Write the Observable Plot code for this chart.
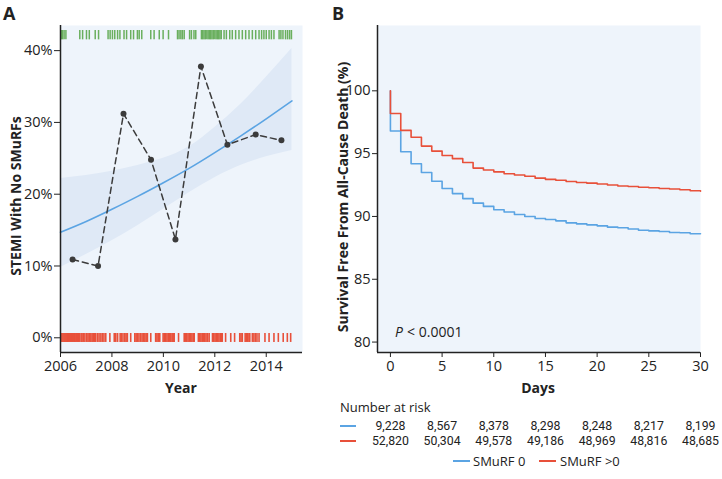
<!DOCTYPE html>
<html>
<head>
<meta charset="utf-8">
<script src="https://cdn.jsdelivr.net/npm/d3@7"></script>
<script src="https://cdn.jsdelivr.net/npm/@observablehq/plot@0.6"></script>
<style>
  html, body { margin: 0; padding: 0; background: #fff; }
  #root { position: relative; width: 722px; height: 479px; font-family: "Open Sans", sans-serif; color: #222; overflow: hidden; }
  .abs { position: absolute; }
  .panel { font-weight: 700; font-size: 18px; }
  .ttl { font-weight: 700; font-size: 14px; white-space: nowrap; }
  .rot { transform: translate(-50%, -50%) rotate(-90deg); }
  .sw { position: absolute; height: 2px; }
  .txt { font-size: 13px; white-space: nowrap; }
</style>
</head>
<body>
<div id="root">
  <div class="abs panel" style="left:3px;top:1px;">A</div>
  <div class="abs panel" style="left:332px;top:1px;">B</div>
  <div id="pa" class="abs" style="left:0;top:0;"></div>
  <div id="pb" class="abs" style="left:330px;top:0;"></div>
  <div class="abs ttl rot" style="left:15px;top:196px;">STEMI With No SMuRFs</div>
  <div class="abs ttl rot" style="left:342px;top:197px;">Survival Free From All-Cause Death (%)</div>
  <div class="abs ttl" style="left:181px;top:387px;transform:translate(-50%,-50%);">Year</div>
  <div class="abs ttl" style="left:538px;top:387px;transform:translate(-50%,-50%);">Days</div>
  <div class="abs txt" style="left:340px;top:398px;">Number at risk</div>
  <div class="sw" style="left:340px;top:425px;width:16px;background:#5ba4e3;"></div>
  <div class="sw" style="left:340px;top:440px;width:16px;background:#e8503a;"></div>
  <div id="risk" class="abs" style="left:330px;top:414px;"></div>
  <div class="sw" style="left:453px;top:460px;width:17px;background:#5ba4e3;"></div>
  <div class="abs txt" style="left:473px;top:452px;">SMuRF 0</div>
  <div class="sw" style="left:539px;top:460px;width:17px;background:#e8503a;"></div>
  <div class="abs txt" style="left:560px;top:452px;">SMuRF &gt;0</div>
</div>
<script>
// ---------- Panel A data ----------
const yearObs = [2006.47, 2007.46, 2008.45, 2009.52, 2010.47, 2011.46, 2012.49, 2013.59, 2014.59];
const pctObs  = [10.9, 10.0, 31.2, 24.8, 13.7, 37.8, 26.9, 28.3, 27.5];
const fitYears = [2006, 2007, 2008, 2009, 2010, 2011, 2012, 2013, 2014, 2015];
const fitPct   = [14.7, 16.2, 17.9, 19.7, 21.6, 23.6, 25.8, 28.1, 30.5, 33.0];
const bandLo   = [9.8, 11.6, 13.5, 15.6, 17.9, 20.2, 22.3, 24.0, 25.2, 26.1];
const bandHi   = [22.2, 22.6, 23.2, 24.0, 25.0, 26.6, 29.3, 32.5, 36.3, 40.3];
const rugNoSmurf = [2006.03, 2006.08, 2006.14, 2006.21, 2006.75, 2006.86, 2007.01, 2007.12, 2007.35, 2007.48,
  2007.85, 2007.93, 2008.02, 2008.11, 2008.22, 2008.31, 2008.47, 2008.57, 2008.73, 2008.84, 2008.99, 2009.06,
  2009.16, 2009.51, 2009.64, 2009.84, 2009.99, 2010.20, 2010.55, 2010.61, 2010.68, 2010.74, 2010.81, 2011.02,
  2011.09, 2011.19, 2011.26, 2011.48, 2011.53, 2011.58, 2011.63, 2011.69, 2011.74, 2011.79, 2011.84, 2011.89,
  2011.94, 2012.00, 2012.05, 2012.10, 2012.15, 2012.20, 2012.25, 2012.36, 2012.45, 2012.58, 2012.68, 2012.81,
  2012.94, 2013.07, 2013.20, 2013.33, 2013.46, 2013.59, 2013.72, 2013.82, 2013.91, 2014.00, 2014.11, 2014.20,
  2014.30, 2014.50, 2014.57, 2014.65, 2014.75, 2014.83, 2014.91, 2014.98];
const rugSmurf = [2006.02, 2006.06, 2006.10, 2006.14, 2006.18, 2006.22, 2006.26, 2006.30, 2006.34, 2006.38,
  2006.42, 2006.46, 2006.50, 2006.54, 2006.57, 2006.62, 2006.66, 2006.70, 2006.74, 2006.80, 2006.84, 2006.90,
  2006.95, 2007.02, 2007.07, 2007.12, 2007.18, 2007.23, 2007.28, 2007.33, 2007.37, 2007.44, 2007.50, 2007.57,
  2007.63, 2007.69, 2007.76, 2007.92, 2008.09, 2008.15, 2008.22, 2008.32, 2008.37, 2008.43, 2008.50, 2008.55,
  2008.60, 2008.73, 2008.89, 2008.94, 2008.99, 2009.05, 2009.11, 2009.17, 2009.22, 2009.28, 2009.33, 2009.38,
  2009.51, 2009.70, 2009.75, 2009.80, 2009.86, 2009.99, 2010.04, 2010.09, 2010.14, 2010.19, 2010.24, 2010.29,
  2010.34, 2010.38, 2010.42, 2010.59, 2010.81, 2010.86, 2010.91, 2010.96, 2011.01, 2011.06, 2011.11, 2011.16,
  2011.20, 2011.36, 2011.41, 2011.46, 2011.51, 2011.56, 2011.61, 2011.66, 2011.72, 2011.78, 2011.91, 2011.96,
  2012.01, 2012.06, 2012.11, 2012.16, 2012.21, 2012.25, 2012.29, 2012.42, 2012.62, 2012.77, 2012.97, 2013.02,
  2013.07, 2013.18, 2013.23, 2013.28, 2013.33, 2013.36, 2013.46, 2013.52, 2013.58, 2013.64, 2013.72, 2013.95,
  2014.11, 2014.30, 2014.47, 2014.66, 2014.82, 2014.95];
const xTicksA = [2006, 2008, 2010, 2012, 2014];
const yTicksA = [0, 10, 20, 30, 40];

// ---------- Panel B data ----------
const kmDays = [0, 0, 1, 2, 3, 4, 5, 6, 7, 8, 9, 10, 11, 12, 13, 14, 15, 16, 17, 18, 19, 20, 21, 22, 23, 24, 25, 26, 27, 28, 29, 30];
const survSmurf0 = [100, 96.8, 95.15, 94.2, 93.5, 92.8, 92.22, 91.82, 91.42, 91.06, 90.8, 90.53, 90.35, 90.16, 90.0, 89.84,
  89.76, 89.65, 89.49, 89.41, 89.33, 89.25, 89.15, 89.1, 89.0, 88.9, 88.85, 88.8, 88.72, 88.7, 88.62, 88.62];
const survSmurfPos = [100, 98.2, 96.85, 96.3, 95.6, 95.2, 94.85, 94.6, 94.3, 93.85, 93.7, 93.55, 93.4, 93.3, 93.2, 93.05,
  92.95, 92.88, 92.78, 92.7, 92.65, 92.58, 92.5, 92.42, 92.38, 92.32, 92.28, 92.22, 92.18, 92.12, 92.05, 92.0];
const riskDays = [0, 5, 10, 15, 20, 25, 30];
const riskSmurf0 = [9228, 8567, 8378, 8298, 8248, 8217, 8199];
const riskSmurfPos = [52820, 50304, 49578, 49186, 48969, 48816, 48685];
const xTicksB = [0, 5, 10, 15, 20, 25, 30];
const yTicksB = [80, 85, 90, 95, 100];

// ---------- styles ----------
const BG = "#eef4fb", BAND = "#dfe9f6", BLUE = "#5ba4e3", RED = "#e8503a", GREEN = "#6aaf5e", DARK = "#3b3b3b";
const font = {fontFamily: "'Open Sans', sans-serif", fontSize: "14.5px", color: "#222", background: "transparent", overflow: "visible"};

const obs = yearObs.map((x, i) => ({x, y: pctObs[i]}));
const fit = fitYears.map((x, i) => ({x, y: fitPct[i], lo: bandLo[i], hi: bandHi[i]}));
const xDomA = [2006, 2015.41], yDomA = [-2.05, 43.5];

const pa = Plot.plot({
  width: 330, height: 395, marginLeft: 60, marginRight: 28, marginTop: 25, marginBottom: 43,
  style: font,
  x: {domain: xDomA, ticks: xTicksA, tickFormat: d => String(d), tickSize: 5, tickPadding: 3, label: null},
  y: {domain: yDomA, ticks: yTicksA, tickFormat: d => d + "%", tickSize: 6, tickPadding: 2, label: null},
  marks: [
    Plot.frame({fill: BG, stroke: null}),
    Plot.areaY(fit, {x: "x", y1: "lo", y2: "hi", fill: BAND, curve: "natural"}),
    Plot.ruleX(rugNoSmurf, {x: d => d, y1: 41.5, y2: 42.8, stroke: GREEN, strokeWidth: 1.5}),
    Plot.ruleX(rugSmurf, {x: d => d, y1: -0.65, y2: 0.6, stroke: RED, strokeWidth: 1.6}),
    Plot.line(fit, {x: "x", y: "y", stroke: BLUE, strokeWidth: 1.6, curve: "natural"}),
    Plot.line(obs, {x: "x", y: "y", stroke: DARK, strokeWidth: 1.5, strokeDasharray: "6,4"}),
    Plot.dot(obs, {x: "x", y: "y", r: 3, fill: DARK, stroke: null}),
    Plot.ruleX([xDomA[0]], {stroke: "#222", strokeWidth: 1.5}),
    Plot.ruleY([yDomA[0]], {stroke: "#222", strokeWidth: 1.5})
  ]
});
document.getElementById("pa").appendChild(pa);

const red = kmDays.map((d, i) => ({d, s: survSmurfPos[i]}));
const blue = kmDays.map((d, i) => ({d, s: survSmurf0[i]}));
const xDomB = [-1.25, 30], yDomB = [79.17, 105.2];

const pb = Plot.plot({
  width: 392, height: 395, marginLeft: 47, marginRight: 22, marginTop: 25, marginBottom: 43,
  style: font,
  x: {domain: xDomB, ticks: xTicksB, tickSize: 5, tickPadding: 3, label: null},
  y: {domain: yDomB, ticks: yTicksB, tickSize: 5, tickPadding: 2, label: null},
  marks: [
    Plot.frame({fill: BG, stroke: null}),
    Plot.line(blue, {x: "d", y: "s", stroke: BLUE, strokeWidth: 1.6, curve: "step-after"}),
    Plot.line(red, {x: "d", y: "s", stroke: RED, strokeWidth: 1.6, curve: "step-after"}),
    Plot.text(["P"], {x: 0.45, y: 80.8, text: d => d, textAnchor: "start", fontStyle: "italic", fontSize: 14, fill: "#222"}),
    Plot.text(["< 0.0001"], {x: 0.45, y: 80.8, text: d => d, textAnchor: "start", dx: 12, fontSize: 14, fill: "#222"}),
    Plot.ruleX([xDomB[0]], {stroke: "#222", strokeWidth: 1.5}),
    Plot.ruleY([yDomB[0]], {stroke: "#222", strokeWidth: 1.5})
  ]
});
document.getElementById("pb").appendChild(pb);

const fmt = d3.format(",");
const riskRows = [
  ...riskDays.map((d, i) => ({d, g: "SMuRF 0", n: riskSmurf0[i]})),
  ...riskDays.map((d, i) => ({d, g: "SMuRF >0", n: riskSmurfPos[i]}))
];
const risk = Plot.plot({
  width: 392, height: 38, marginLeft: 47, marginRight: 22, marginTop: 4, marginBottom: 4,
  style: {...font, fontFamily: "Roboto, sans-serif"},
  x: {domain: xDomB, axis: null},
  y: {domain: ["SMuRF 0", "SMuRF >0"], axis: null},
  marks: [
    Plot.text(riskRows, {x: "d", y: "g", text: d => fmt(d.n), fontSize: 12.3, fontFamily: "Roboto, sans-serif", fill: "#222"})
  ]
});
document.getElementById("risk").appendChild(risk);
</script>
</body>
</html>
